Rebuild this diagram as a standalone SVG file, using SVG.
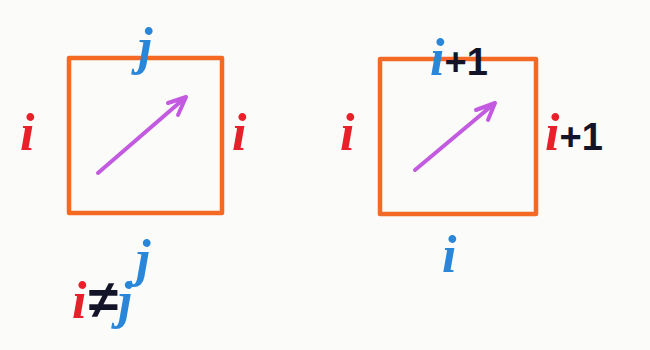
<svg xmlns="http://www.w3.org/2000/svg" width="650" height="350" viewBox="0 0 650 350">
<style>
.sq{fill:none;stroke:#f46a25;stroke-width:4.5;stroke-linejoin:round}
.ar{fill:none;stroke:#c25be0;stroke-width:4;stroke-linecap:round;stroke-linejoin:round}
text{font-family:"Liberation Serif","DejaVu Serif",serif;font-style:italic;font-weight:bold;font-size:52px}
.r{fill:#e8202a}.b{fill:#2a86d8}.k{fill:#141428;font-style:normal;font-family:"Liberation Sans",sans-serif;font-weight:bold;font-size:38px}
.ne{font-size:54px}
</style>
<rect width="650" height="350" fill="#fbfbf9"/>
<g id="square1">
<rect class="sq" x="69" y="58" width="153" height="155"/>
<text class="b" x="138" y="64">j</text>
<text class="r" x="20" y="150">i</text>
<text class="r" x="232" y="150">i</text>
<text class="b" x="136" y="276">j</text>
</g>
<g id="square2">
<rect class="sq" x="380" y="59" width="156" height="155"/>
<text x="430" y="75"><tspan class="b">i</tspan><tspan class="k">+1</tspan></text>
<text class="r" x="340" y="150">i</text>
<text x="545" y="150"><tspan class="r">i</tspan><tspan class="k">+1</tspan></text>
<text class="b" x="442" y="272">i</text>
</g>
<g id="condition">
<text x="72" y="318"><tspan class="r">i</tspan><tspan class="k ne" dx="2">≠</tspan><tspan class="b">j</tspan></text>
</g>
<g id="connectors">
<path class="ar" d="M98,173 L186,97 M168,103 L186,97 L178,115"/>
<path class="ar" d="M415,170 L495,103 M476,110 L495,103 L488,120"/>
</g>
</svg>
